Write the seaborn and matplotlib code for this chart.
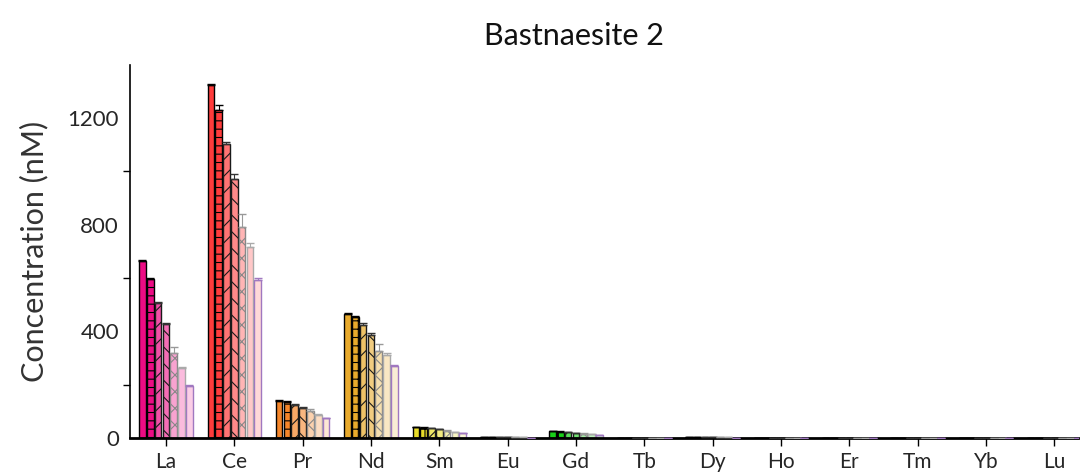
import numpy as np
import pandas as pd
import matplotlib
matplotlib.use("Agg")
import matplotlib.pyplot as plt
import matplotlib.colors as mcolors
import seaborn as sns

# Rare-earth elements on the x axis
elements = ["La", "Ce", "Pr", "Nd", "Sm", "Eu", "Gd", "Tb", "Dy", "Ho", "Er", "Tm", "Yb", "Lu"]

# Seven successive samples per element (nM)
s1 = [665, 1323, 140, 465, 40, 4, 26, 0.6, 3, 0.5, 0.5, 0.4, 0.5, 0.4]
s2 = [596, 1232, 135, 455, 39, 4, 24, 0.6, 3, 0.5, 0.5, 0.4, 0.5, 0.4]
s3 = [506, 1102, 124, 425, 36, 3, 21, 0.5, 3, 0.4, 0.4, 0.3, 0.4, 0.3]
s4 = [427, 973, 112, 387, 33, 3, 19, 0.5, 2, 0.4, 0.4, 0.3, 0.4, 0.3]
s5 = [318, 790, 100, 327, 28, 2, 16, 0.4, 2, 0.3, 0.3, 0.3, 0.3, 0.3]
s6 = [261, 717, 87, 311, 22, 2, 14, 0.4, 2, 0.3, 0.3, 0.2, 0.3, 0.2]
s7 = [195, 591, 74, 270, 17, 1, 10, 0.3, 1, 0.2, 0.2, 0.2, 0.2, 0.2]

# Standard deviations of the same samples
e1 = [3, 4, 2, 3, 1, 0.2, 1, 0.1, 0.2, 0.1, 0.1, 0.1, 0.1, 0.1]
e2 = [4, 17, 2, 4, 1, 0.2, 1, 0.1, 0.2, 0.1, 0.1, 0.1, 0.1, 0.1]
e3 = [5, 10, 3, 5, 1, 0.2, 1, 0.1, 0.2, 0.1, 0.1, 0.1, 0.1, 0.1]
e4 = [5, 17, 3, 6, 1, 0.2, 1, 0.1, 0.2, 0.1, 0.1, 0.1, 0.1, 0.1]
e5 = [23, 49, 8, 24, 2, 0.3, 1, 0.1, 0.3, 0.1, 0.1, 0.1, 0.1, 0.1]
e6 = [5, 15, 3, 7, 1, 0.2, 1, 0.1, 0.2, 0.1, 0.1, 0.1, 0.1, 0.1]
e7 = [4, 11, 2, 4, 1, 0.2, 1, 0.1, 0.2, 0.1, 0.1, 0.1, 0.1, 0.1]

samples = ["1", "2", "3", "4", "5", "6", "7"]
series = [s1, s2, s3, s4, s5, s6, s7]
errors = [e1, e2, e3, e4, e5, e6, e7]

# Base colour of each element
element_colors = ["#EC0C84", "#FF3C3C", "#F5862A", "#E8AA2C", "#E8DC2A", "#404040", "#18D018",
                  "#2AA88C", "#404040", "#2A8CD8", "#4A5AD8", "#8A4AD8", "#C84AC8", "#606060"]

# Per-sample styling: hatch, fill strength, outline, error colour
hatches = ["", "--|", "//", "\\\\", "xx", "", ""]
fill_mix = [1.0, 1.0, 0.72, 0.6, 0.38, 0.28, 0.2]
edge_cols = ["#000000", "#000000", "#1a1a1a", "#1a1a1a", "#888888", "#aaaaaa", "#A078C0"]
err_cols = ["#000000", "#000000", "#333333", "#333333", "#999999", "#aaaaaa", "#A078C0"]

df = pd.DataFrame({
    "Element": elements * len(samples),
    "Sample": np.repeat(samples, len(elements)),
    "Concentration": np.concatenate(series),
})

sns.set_theme(style="white")
plt.rcParams["font.family"] = ["Lato", "DejaVu Sans"]
plt.rcParams["hatch.linewidth"] = 0.8

fig = plt.figure(figsize=(10.8, 4.73), dpi=100)
ax = fig.add_axes([0.1204, 0.074, 0.878, 0.789])

sns.barplot(data=df, x="Element", y="Concentration", hue="Sample", order=elements,
            hue_order=samples, errorbar=None, gap=0.15, width=0.8, legend=False, ax=ax)

white = np.array([1.0, 1.0, 1.0])
for si in range(len(samples)):
    cont = ax.containers[si]
    xs, ys = [], []
    for ei, patch in enumerate(cont.patches):
        base = np.array(mcolors.to_rgb(element_colors[ei]))
        m = fill_mix[si]
        face = base * m + white * (1 - m)
        patch.set_facecolor(face)
        patch.set_edgecolor(edge_cols[si])
        patch.set_linewidth(1.0)
        patch.set_hatch(hatches[si])
        xs.append(patch.get_x() + patch.get_width() / 2)
        ys.append(patch.get_height())
    ax.errorbar(xs, ys, yerr=[np.zeros(len(elements)), errors[si]], fmt="none",
                ecolor=err_cols[si], elinewidth=0.8, capsize=3, capthick=1.0, zorder=3)

ax.set_xlim(-0.525, 13.35)
ax.set_ylim(0, 1400)
ax.set_yticks([0, 400, 800, 1200])
ax.set_yticks([200, 600, 1000], minor=True)
ax.set_xlabel("")
ax.set_ylabel("Concentration (nM)", fontsize=22, color="#333333", labelpad=14)
ax.set_title("Bastnaesite 2", fontsize=22, pad=14, color="#111111", x=0.468)

for side in ["top", "right"]:
    ax.spines[side].set_visible(False)
ax.spines["left"].set_color("black")
ax.spines["left"].set_linewidth(1.2)
ax.spines["bottom"].set_color("black")
ax.spines["bottom"].set_linewidth(2.0)

ax.tick_params(axis="both", which="both", direction="out", color="black", width=1.0)
ax.tick_params(axis="y", which="major", length=5, labelsize=16, pad=3)
ax.tick_params(axis="y", which="minor", length=5, left=True)
ax.tick_params(axis="x", which="major", length=6, labelsize=15, bottom=True, pad=4)
ax.grid(False)

fig.savefig("out.png", dpi=100)
